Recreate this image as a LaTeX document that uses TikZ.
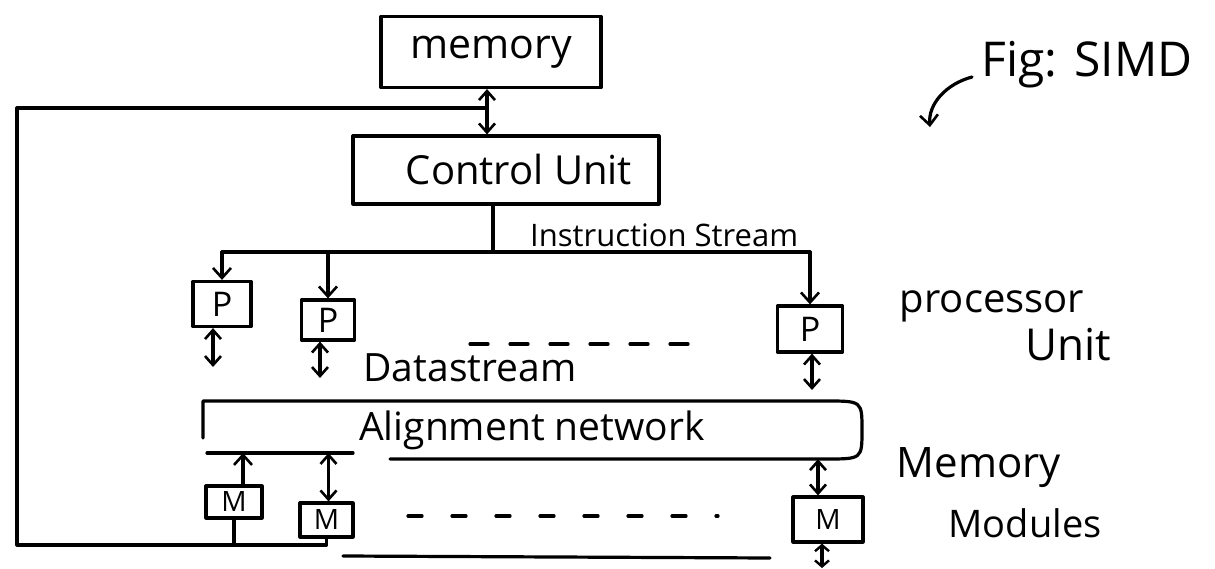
\documentclass[tikz,border=0pt]{standalone}
\usepackage{fontspec}
\setmainfont{Open Sans}
\usetikzlibrary{arrows.meta}
\newcommand\tsize[1]{\fontsize{#1pt}{#1pt}\selectfont}
\tikzset{
  ink/.style={line width=3.2pt, line cap=round, line join=round, draw=black},
  box/.style={ink, draw, inner sep=0pt},
  lbl/.style={inner sep=0pt, text=black},
  tip/.style={-{Straight Barb[length=10pt,width=18pt,line width=2.6pt]}},
  biarrow/.style={ink, {Straight Barb[length=9pt,width=16pt,line width=2.6pt]}-{Straight Barb[length=9pt,width=16pt,line width=2.6pt]}},
  shortbi/.style={ink, {Straight Barb[length=6pt,width=14pt,line width=2.4pt]}-{Straight Barb[length=6pt,width=14pt,line width=2.4pt]}},
  dashrow/.style={ink, dash pattern=on 18pt off 22pt},
}
\begin{document}
\begin{tikzpicture}[x=1pt,y=-1pt]
\useasboundingbox[fill=white] (0,0) rectangle (1215,569);

% main memory and control unit
\node[box, minimum width=220pt, minimum height=71pt, font=\tsize{41}] (mem) at (491,52) {memory};
\node[box, minimum width=306pt, minimum height=68pt, font=\tsize{40}] (cu) at (506,170) {\hspace*{26pt}Control Unit};
\draw[biarrow] ([xshift=-4pt]mem.south) -- ([xshift=-4pt]mem.south |- cu.north);

% processing elements
\node[box, minimum width=58pt, minimum height=45pt, font=\tsize{34}] (P1) at (222,304) {P};
\node[box, minimum width=53pt, minimum height=40pt, font=\tsize{34}] (P2) at (328,320) {P};
\node[box, minimum width=65pt, minimum height=46pt, font=\tsize{34}] (P3) at (810,329) {P};

% instruction stream bus
\coordinate (bus) at (493,252);
\draw[ink] (cu.south -| bus) -- (bus);
\draw[ink] (P1.north |- bus) -- (P3.north |- bus);
\draw[ink, tip] (P1.north |- bus) -- (P1.north);
\draw[ink, tip] (P2.north |- bus) -- (P2.north);
\draw[ink, tip] (P3.north |- bus) -- (P3.north);
\node[lbl, font=\tsize{31}, anchor=base west] (instr) at (530,247) {Instruction Stream};

% data streams out of the processors
\coordinate (d1) at (213,367);
\coordinate (d2) at (320,378);
\coordinate (d3) at (812,390);
\draw[biarrow] (P1.south -| d1) -- (d1);
\draw[biarrow] (P2.south -| d2) -- (d2);
\draw[biarrow] (P3.south -| d3) -- (d3);
\coordinate (pd1) at (470,344);
\coordinate (pd2) at (705,344);
\draw[dashrow] (pd1) -- (pd2);
\node[lbl, font=\tsize{39}] (ds) at (470,368) {Datastream};

% alignment network
\node[lbl, minimum width=659pt, minimum height=58pt, font=\tsize{39}] (al) at (532,430) {Alignment network};
\draw[ink] (203,438) -- (203,401) -- (826,401)
  .. controls (862,401) and (862,401) .. (862,430)
  .. controls (862,459) and (862,459) .. (826,459) -- (390,459);
\coordinate (alL) at (207,453);
\coordinate (alR) at (353,453);
\draw[ink] (alL) -- (alR);

% memory modules
\node[box, minimum width=56pt, minimum height=32pt, font=\tsize{28}] (M1) at (234,502) {M};
\node[box, minimum width=53pt, minimum height=34pt, font=\tsize{28}] (M2) at (326.5,520) {M};
\node[box, minimum width=70pt, minimum height=45pt, font=\tsize{28}] (M3) at (828,519.5) {M};
\draw[ink, tip] ([xshift=9pt]M1.north) -- ([xshift=9pt]M1.north |- alL);
\draw[biarrow] ([xshift=2pt]M2.north) -- ([xshift=2pt]M2.north |- alL);
\draw[biarrow] ([xshift=-10pt]M3.north) -- ([xshift=-10pt]M3.north |- al.south);
\coordinate (m3out) at (822,568);
\draw[shortbi] (M3.south -| m3out) -- (m3out);
\coordinate (md1) at (408,516);
\coordinate (md2) at (718,516);
\draw[dashrow, dash pattern=on 14pt off 30pt] (md1) -- (md2);

% feedback loop from the modules back to the control path
\coordinate (link) at (487,108);
\coordinate (tl) at (17,108);
\coordinate (bl) at (17,545);
\draw[ink] (M1.south) -- (M1.south |- bl) -- (bl) -- (tl) -- (link);
\draw[ink] (M1.south |- bl) -- (M2.south |- bl) -- (M2.south);
\coordinate (tailA) at (343,556);
\coordinate (tailB) at (770,558);
\draw[ink] (tailA) -- (tailB);

% side labels
\node[lbl, font=\tsize{48}] (fig) at (1087,65) {Fig: SIMD};
\coordinate (fa) at (972,77);
\coordinate (fb) at (930,127);
\draw[ink, tip] (fa) .. controls (946,84) and (928,104) .. (fb);
\node[lbl, font=\tsize{40}] (pu1) at (992,306) {processor};
\node[lbl, font=\tsize{44}] (pu2) at (1068,345) {Unit};
\node[lbl, font=\tsize{42}] (mm1) at (979,468) {Memory};
\node[lbl, font=\tsize{38}] (mm2) at (1025,523) {Modules};
\end{tikzpicture}
\end{document}
